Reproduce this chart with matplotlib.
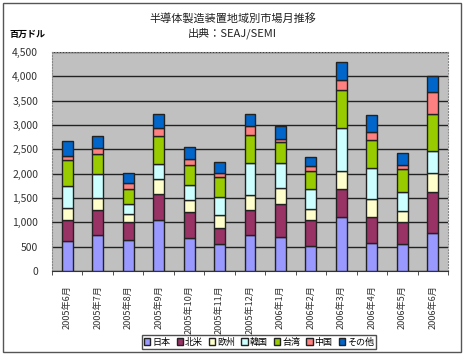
import numpy as np
import matplotlib.pyplot as plt
from matplotlib.patches import Rectangle

plt.rcParams['font.family'] = ['Noto Sans CJK JP', 'DejaVu Sans']

months = ['2005年6月', '2005年7月', '2005年8月', '2005年9月', '2005年10月',
          '2005年11月', '2005年12月', '2006年1月', '2006年2月', '2006年3月',
          '2006年4月', '2006年5月', '2006年6月']

# 百万ドル
japan  = [617, 734, 631, 1056, 679, 549, 741, 693, 521, 1104, 569, 549, 775]
namer  = [426, 515, 371, 536, 528, 343, 514, 679, 522, 577, 542, 459, 844]
europe = [247, 246, 178, 295, 247, 267, 302, 329, 240, 384, 371, 227, 391]
korea  = [466, 494, 192, 308, 309, 371, 659, 515, 398, 871, 631, 398, 446]
taiwan = [528, 412, 309, 583, 412, 398, 569, 432, 384, 789, 576, 459, 768]
china  = [83, 117, 130, 151, 130, 82, 185, 69, 89, 199, 158, 96, 453]
other  = [295, 260, 199, 295, 240, 226, 254, 260, 185, 364, 357, 227, 322]

names = ['日本', '北米', '欧州', '韓国', '台湾', '中国', 'その他']
colors = ['#9999FF', '#993366', '#FFFFCC', '#CCFFFF', '#99CC00', '#FF8080', '#0066CC']

fig = plt.figure(figsize=(4.65, 3.56), dpi=100)
fig.patches.append(Rectangle((0.007, 0.011), 0.985, 0.98, transform=fig.transFigure,
                             fill=False, edgecolor='#555555', lw=1))
ax = fig.add_axes([0.1118, 0.2388, 0.8516, 0.6151])
ax.set_facecolor('#C0C0C0')

x = np.arange(len(months))
bottom = np.zeros(len(months))
for vals, name, c in zip([japan, namer, europe, korea, taiwan, china, other], names, colors):
    ax.bar(x, vals, 0.36, bottom=bottom, color=c, edgecolor='#222222', lw=1,
           label=name, zorder=3)
    bottom += np.array(vals)

ax.set_xlim(-0.5, len(months) - 0.5)
ax.set_ylim(0, 4500)
ax.set_yticks(np.arange(0, 4501, 500))
ax.set_yticklabels([f'{v:,}' for v in range(0, 4501, 500)], fontsize=7.5, color='#333333')
ax.yaxis.grid(True, color='#222222', lw=1, zorder=1)
ax.tick_params(axis='y', length=0, pad=10)
ax.set_xticks(x)
ax.set_xticklabels(months, rotation=90, fontsize=6.6, color='#333333')
ax.tick_params(axis='x', length=0, pad=10)
ax.set_xticks(np.arange(-0.5, len(months)), minor=True)
ax.tick_params(axis='x', which='minor', length=3, color='#333333')
for s in ax.spines.values():
    s.set_color('#888888')
    s.set_linestyle(':')
ax.spines['bottom'].set_color('#333333')
ax.spines['bottom'].set_linestyle('-')

fig.text(0.5, 0.948, '半導体製造装置地域別市場月推移', ha='center', va='center', fontsize=8, color='#222222')
fig.text(0.5, 0.908, '出典：SEAJ/SEMI', ha='center', va='center', fontsize=8, color='#222222')
fig.text(0.02, 0.902, '百万ドル', ha='left', va='center', fontsize=6.5, fontweight='bold')

leg = fig.legend(loc='center', bbox_to_anchor=(0.557, 0.039), ncol=7, fontsize=6.5,
                 frameon=True, fancybox=False, handlelength=0.7, handleheight=0.7,
                 handletextpad=0.2, columnspacing=0.7, borderpad=0.25)
leg.get_frame().set_edgecolor('#222222')
leg.get_frame().set_linewidth(1)

plt.savefig('out.png', dpi=100)
